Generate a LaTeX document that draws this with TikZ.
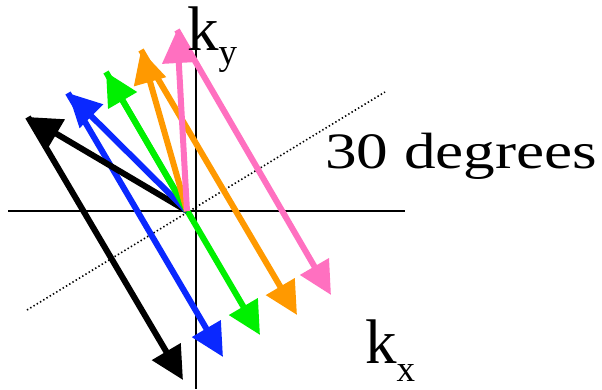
\documentclass[tikz,border=0pt]{standalone}
\usepackage{fontspec}
\setmainfont{Liberation Serif}
\usetikzlibrary{arrows.meta}
\definecolor{cblue}{RGB}{10,40,255}
\definecolor{cgreen}{RGB}{0,240,0}
\definecolor{corange}{RGB}{255,153,0}
\definecolor{cpink}{RGB}{255,112,192}
\tikzset{
  axisline/.style={line width=2.4pt, black},
  dotline/.style={line width=1.6pt, black, dash pattern=on 1.4pt off 2.4pt},
  vec/.style={line width=6pt, -{Triangle[length=33pt,width=32pt]}},
  lbl/.style={inner sep=0pt, anchor=base west}
}
\begin{document}
\begin{tikzpicture}[x=1pt,y=-1pt]
\useasboundingbox (0,0) rectangle (602,389);
% axes
\coordinate (xl) at (8,211);
\coordinate (xr) at (405,211);
\coordinate (yt) at (196,50);
\coordinate (yb) at (196,389);
\coordinate (dl) at (27,310);
\coordinate (dr) at (385,92);
\draw[axisline] (xl) -- (xr);
\draw[axisline] (yt) -- (yb);
\draw[dotline] (dl) -- (dr);
% vector end points
\coordinate (O) at (187,211);
\coordinate (bk1) at (28,117);  \coordinate (bk2) at (183,380);
\coordinate (bl1) at (68,93);   \coordinate (bl2) at (223,357);
\coordinate (gr1) at (106,72);  \coordinate (gr2) at (260,335);
\coordinate (or1) at (141,50);  \coordinate (or2) at (297,315);
\coordinate (pk1) at (177,30);  \coordinate (pk2) at (331,295);
% lower (parallel) vectors
\draw[vec, black]   (bk1) -- (bk2);
\draw[vec, cblue]   (bl1) -- (bl2);
\draw[vec, cgreen]  (gr1) -- (gr2);
\draw[vec, corange] (or1) -- (or2);
\draw[vec, cpink]   (pk1) -- (pk2);
% upper vectors from origin
\draw[vec, black]   (O) -- (bk1);
\draw[vec, cblue]   (O) -- (bl1);
\draw[vec, cgreen]  (O) -- (gr1);
\draw[vec, corange] (O) -- (or1);
\draw[vec, cpink]   (O) -- (pk1);
% labels
\node[lbl] (ky) at (187,50) {\fontsize{63}{63}\selectfont k\raisebox{-14pt}{\fontsize{37}{37}\selectfont y}};
\node[lbl] (kx) at (365,363) {\fontsize{63}{63}\selectfont k\raisebox{-18pt}{\fontsize{37}{37}\selectfont x}};
\node[lbl] (deg) at (325,168) {\scalebox{1.24}[1]{\fontsize{51}{51}\selectfont 30 degrees}};
\end{tikzpicture}
\end{document}
